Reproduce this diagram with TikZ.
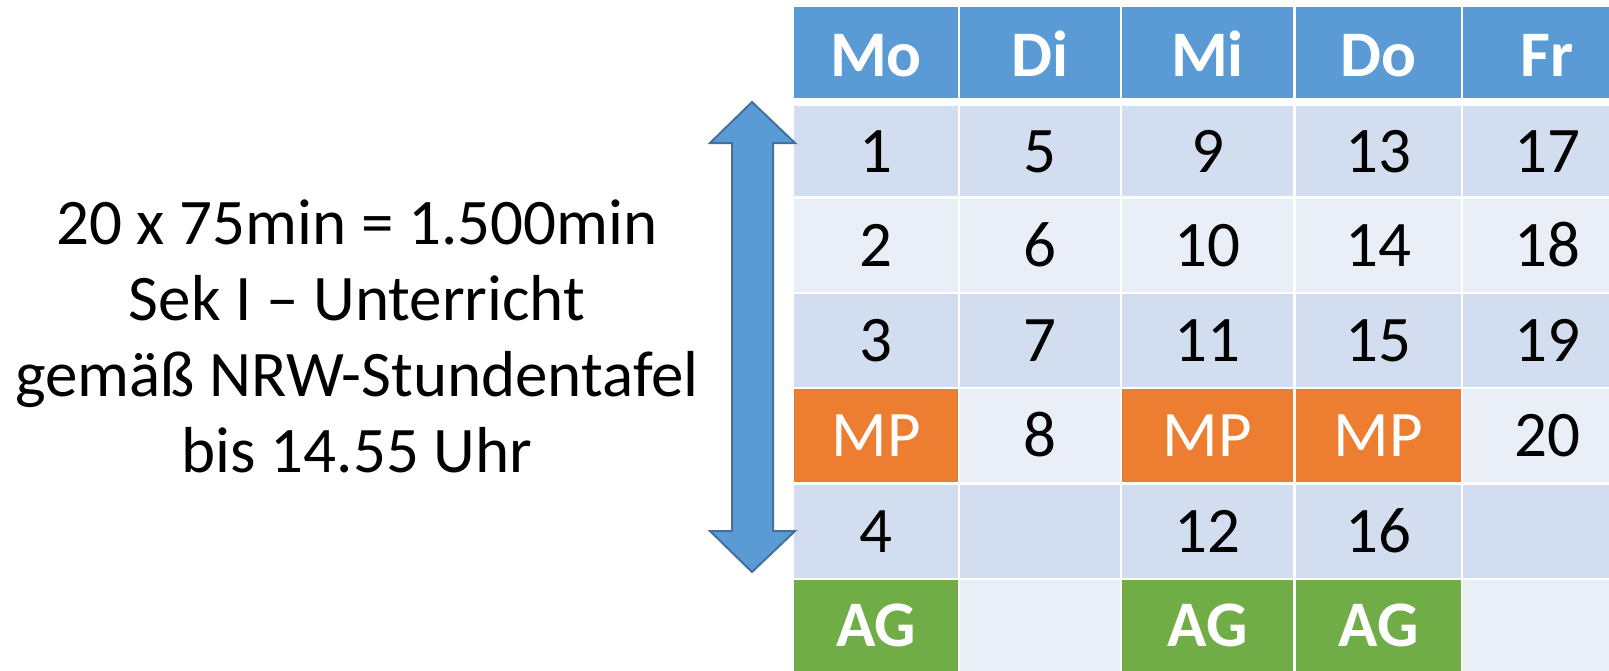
\documentclass[tikz,border=0pt]{standalone}
\usepackage{fontspec}
\setmainfont{Carlito}
\definecolor{headblue}{HTML}{5B9BD5}
\definecolor{banddark}{HTML}{D2DEEF}
\definecolor{bandlight}{HTML}{EAEFF7}
\definecolor{mporange}{HTML}{ED7D31}
\definecolor{aggreen}{HTML}{70AD47}
\definecolor{arrowline}{HTML}{41719C}
\tikzset{
	celltext/.style={anchor=base, inner sep=0pt, font=\fontsize{32.5pt}{38pt}\selectfont},
	headtext/.style={celltext, text=white, font=\fontsize{32.5pt}{38pt}\selectfont\bfseries},
	mptext/.style={celltext, text=white},
	agtext/.style={headtext}
}
\begin{document}
\begin{tikzpicture}[x=0.5pt, y=-0.5pt]
	\useasboundingbox (0, 0) rectangle (1609, 670);
	\clip (0, 0) rectangle (1609, 670);
	
	% header
	\fill[headblue] (794, 7) rectangle (958, 98);
	\fill[headblue] (960, 7) rectangle (1120, 98);
	\fill[headblue] (1122, 7) rectangle (1293, 98);
	\fill[headblue] (1296, 7) rectangle (1461, 98);
	\fill[headblue] (1463, 7) rectangle (1631, 98);
	
	% rows
	\fill[banddark] (794, 106) rectangle (958, 196);
	\fill[banddark] (960, 106) rectangle (1120, 196);
	\fill[banddark] (1122, 106) rectangle (1293, 196);
	\fill[banddark] (1296, 106) rectangle (1461, 196);
	\fill[banddark] (1463, 106) rectangle (1631, 196);
	
	\fill[bandlight] (794, 199) rectangle (958, 292);
	\fill[bandlight] (960, 199) rectangle (1120, 292);
	\fill[bandlight] (1122, 199) rectangle (1293, 292);
	\fill[bandlight] (1296, 199) rectangle (1461, 292);
	\fill[bandlight] (1463, 199) rectangle (1631, 292);
	
	\fill[banddark] (794, 294) rectangle (958, 387);
	\fill[banddark] (960, 294) rectangle (1120, 387);
	\fill[banddark] (1122, 294) rectangle (1293, 387);
	\fill[banddark] (1296, 294) rectangle (1461, 387);
	\fill[banddark] (1463, 294) rectangle (1631, 387);
	
	\fill[mporange] (794, 389) rectangle (958, 482);
	\fill[bandlight] (960, 389) rectangle (1120, 482);
	\fill[mporange] (1122, 389) rectangle (1293, 482);
	\fill[mporange] (1296, 389) rectangle (1461, 482);
	\fill[bandlight] (1463, 389) rectangle (1631, 482);
	
	\fill[banddark] (794, 485) rectangle (958, 578);
	\fill[banddark] (960, 485) rectangle (1120, 578);
	\fill[banddark] (1122, 485) rectangle (1293, 578);
	\fill[banddark] (1296, 485) rectangle (1461, 578);
	\fill[banddark] (1463, 485) rectangle (1631, 578);
	
	\fill[aggreen] (794, 580) rectangle (958, 673);
	\fill[bandlight] (960, 580) rectangle (1120, 673);
	\fill[aggreen] (1122, 580) rectangle (1293, 673);
	\fill[aggreen] (1296, 580) rectangle (1461, 673);
	\fill[bandlight] (1463, 580) rectangle (1631, 673);
	
	% texts
	\node[headtext] (mo) at (876, 76) {Mo};
	\node[headtext] (di) at (1040, 76) {Di};
	\node[headtext] (mi) at (1207.5, 76) {Mi};
	\node[headtext] (do) at (1378.5, 76) {Do};
	\node[headtext] (fr) at (1547, 76) {Fr};
	
	\node[celltext] (h1) at (876, 172) {1};
	\node[celltext] (h5) at (1040, 172) {5};
	\node[celltext] (h9) at (1207.5, 172) {9};
	\node[celltext] (h13) at (1378.5, 172) {13};
	\node[celltext] (h17) at (1547, 172) {17};
	
	\node[celltext] (h2) at (876, 266.5) {2};
	\node[celltext] (h6) at (1040, 266.5) {6};
	\node[celltext] (h10) at (1207.5, 266.5) {10};
	\node[celltext] (h14) at (1378.5, 266.5) {14};
	\node[celltext] (h18) at (1547, 266.5) {18};
	
	\node[celltext] (h3) at (876, 361.5) {3};
	\node[celltext] (h7) at (1040, 361.5) {7};
	\node[celltext] (h11) at (1207.5, 361.5) {11};
	\node[celltext] (h15) at (1378.5, 361.5) {15};
	\node[celltext] (h19) at (1547, 361.5) {19};
	
	\node[mptext] (mpmo) at (876, 456.5) {MP};
	\node[celltext] (h8) at (1040, 456.5) {8};
	\node[mptext] (mpmi) at (1207.5, 456.5) {MP};
	\node[mptext] (mpdo) at (1378.5, 456.5) {MP};
	\node[celltext] (h20) at (1547, 456.5) {20};
	
	\node[celltext] (h4) at (876, 552.5) {4};
	\node[celltext] (h12) at (1207.5, 552.5) {12};
	\node[celltext] (h16) at (1378.5, 552.5) {16};
	
	\node[agtext] (agmo) at (876, 646) {AG};
	\node[agtext] (agmi) at (1207.5, 646) {AG};
	\node[agtext] (agdo) at (1378.5, 646) {AG};
	
	% arrow
	\draw[arrowline, fill=headblue, line width=1pt, line join=miter]
		(752, 102) -- (795, 143) -- (773, 143) -- (773, 531) -- (795, 531)
		-- (752, 572) -- (710, 531) -- (732, 531) -- (732, 143) -- (710, 143) -- cycle;
	
	\node[align=center, inner sep=0pt, font=\fontsize{32.5pt}{38pt}\selectfont] (info) at (357, 336)
		{20 x 75min = 1.500min\\Sek I -- Unterricht\\gemäß NRW-Stundentafel\\bis 14.55 Uhr};
\end{tikzpicture}
\end{document}
